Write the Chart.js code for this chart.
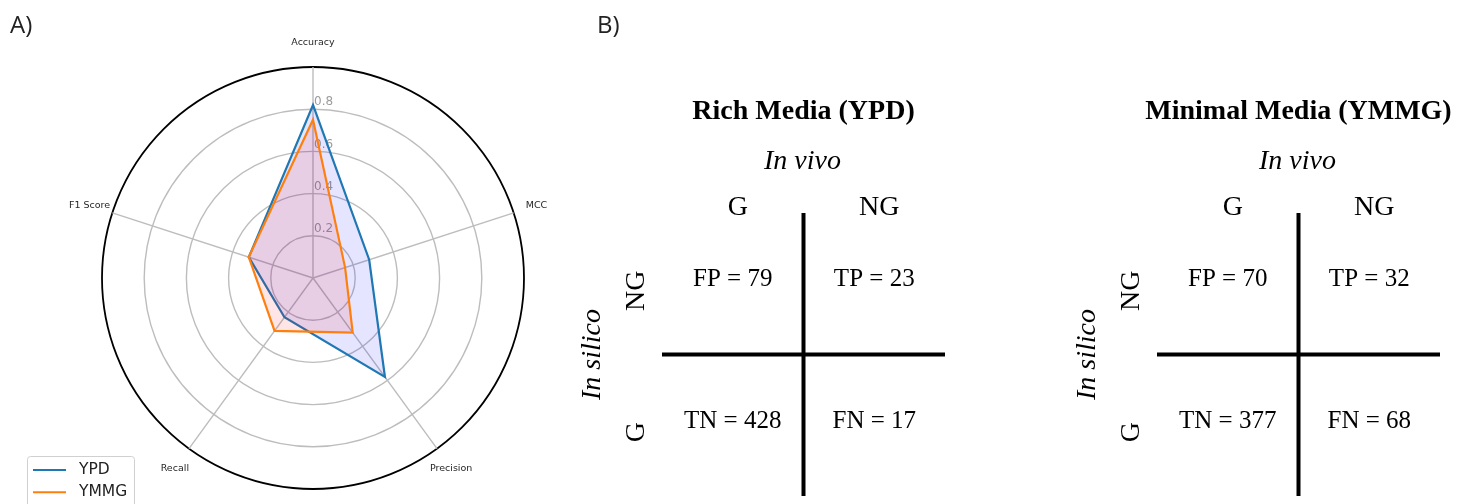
<!DOCTYPE html>
<html lang="en">
<head>
<meta charset="UTF-8">
<title>Radar of scores and confusion matrices</title>
<script src="https://cdn.jsdelivr.net/npm/chart.js@4.4.1/dist/chart.umd.min.js"></script>
<style>
  html, body { margin: 0; padding: 0; background: #fff; }
  #page { position: relative; width: 1481px; height: 504px; overflow: hidden; }
  canvas { position: absolute; top: 0; }
</style>
</head>
<body>
<div id="page">
  <canvas id="radar" width="626" height="504" style="left:0"></canvas>
  <canvas id="cm1" width="420" height="504" style="left:562px"></canvas>
  <canvas id="cm2" width="420" height="504" style="left:1057px"></canvas>
</div>
<script>
// panel A - radar scores
var metrics = ['Accuracy', 'MCC', 'Precision', 'Recall', 'F1 Score'];
var ypdScores = [0.82, 0.28, 0.58, 0.23, 0.32];
var ymmgScores = [0.75, 0.16, 0.32, 0.31, 0.32];
var radarTicks = [0.2, 0.4, 0.6, 0.8];

// panel B - confusion matrices
var matrixTitles = ['Rich Media (YPD)', 'Minimal Media (YMMG)'];
var inVivoLabels = ['G', 'NG'];
var inSilicoLabels = ['NG', 'G'];
var cellNames = [['FP', 'TP'], ['TN', 'FN']];
var ypdCounts = [[79, 23], [428, 17]];
var ymmgCounts = [[70, 32], [377, 68]];

var radarExtras = {
    id: 'radarExtras',
    beforeDatasetsDraw: function(chart) {
        var r = chart.scales.r, ctx = chart.ctx;
        ctx.save();
        ctx.font = '12px "DejaVu Sans"';
        ctx.fillStyle = '#9c9c9c';
        ctx.textAlign = 'left';
        ctx.textBaseline = 'middle';
        radarTicks.forEach(function(v) {
            var d = r.getDistanceFromCenterForValue(v);
            ctx.fillText(v.toFixed(1), r.xCenter + 1, r.yCenter - d - 7);
        });
        ctx.restore();
    },
    afterDraw: function(chart) {
        var r = chart.scales.r, ctx = chart.ctx;
        ctx.save();
        // axis names
        ctx.font = '9.5px "DejaVu Sans"';
        ctx.fillStyle = '#262626';
        ctx.textAlign = 'center';
        ctx.textBaseline = 'middle';
        metrics.forEach(function(m, i) {
            var p = r.getPointPosition(i, r.drawingArea + 24);
            ctx.fillText(m, p.x, p.y);
        });

        // legend box, bottom left
        ctx.fillStyle = '#fff';
        ctx.strokeStyle = '#d0d0d0';
        ctx.lineWidth = 1;
        ctx.beginPath();
        ctx.roundRect(27.5, 456.5, 107, 60, 3);
        ctx.fill();
        ctx.stroke();
        ctx.font = '15.5px "DejaVu Sans"';
        ctx.textAlign = 'left';
        chart.data.datasets.forEach(function(ds, i) {
            var y = 470 + i * 22.3;
            ctx.strokeStyle = ds.borderColor;
            ctx.lineWidth = 2;
            ctx.beginPath();
            ctx.moveTo(33, y);
            ctx.lineTo(66, y);
            ctx.stroke();
            ctx.fillStyle = '#222';
            ctx.fillText(ds.label, 79, y);
        });

        ctx.font = '24px "Open Sans"';
        ctx.fillStyle = '#222';
        ctx.textBaseline = 'alphabetic';
        ctx.fillText('A)', 10, 33);
        ctx.restore();
    }
};

new Chart(document.getElementById('radar'), {
    type: 'radar',
    data: {
        labels: metrics,
        datasets: [
            { label: 'YPD', data: ypdScores, borderColor: '#1f77b4', backgroundColor: 'rgba(0,0,255,0.1)',
              borderWidth: 2.2, pointRadius: 0, fill: true, order: 1 },
            { label: 'YMMG', data: ymmgScores, borderColor: '#ff7f0e', backgroundColor: 'rgba(255,0,0,0.1)',
              borderWidth: 2.2, pointRadius: 0, fill: true, order: 0 }
        ]
    },
    options: {
        responsive: false,
        animation: false,
        layout: { padding: { top: 67, bottom: 15 } },
        scales: {
            r: {
                min: 0, max: 1,
                ticks: { display: false, stepSize: 0.2 },
                pointLabels: { display: false },
                grid: {
                    circular: true,
                    color: function(c) { return c.index === 5 ? '#000' : '#bdbdbd'; },
                    lineWidth: function(c) { return c.index === 5 ? 1.8 : 1.4; }
                },
                angleLines: { color: '#bdbdbd', lineWidth: 1.4 }
            }
        },
        plugins: { legend: { display: false }, tooltip: { enabled: false } }
    },
    plugins: [radarExtras]
});

var matrixDraw = {
    id: 'matrix',
    afterDraw: function(chart, args, opts) {
        var x = chart.scales.x, y = chart.scales.y, ctx = chart.ctx, a = chart.chartArea;
        var xMid = x.getPixelForValue(1);
        ctx.save();
        ctx.strokeStyle = '#000';
        ctx.lineWidth = 4;
        ctx.beginPath();
        ctx.moveTo(xMid, y.getPixelForValue(0));
        ctx.lineTo(xMid, y.getPixelForValue(2));
        ctx.moveTo(x.getPixelForValue(0), y.getPixelForValue(1));
        ctx.lineTo(x.getPixelForValue(2), y.getPixelForValue(1));
        ctx.stroke();

        ctx.fillStyle = '#000';
        ctx.textAlign = 'center';
        ctx.textBaseline = 'middle';
        ctx.font = 'bold 28px "Liberation Serif"';
        ctx.fillText(opts.title, xMid, a.top - 101);
        ctx.font = 'italic 28px "Liberation Serif"';
        ctx.fillText('In vivo', xMid - 1, a.top - 51);

        ctx.font = '28px "Liberation Serif"';
        inVivoLabels.forEach(function(l, c) {
            ctx.fillText(l, x.getPixelForValue(c + 0.5) + 5, a.top - 5);
        });
        inSilicoLabels.forEach(function(l, r) {
            ctx.save();
            ctx.translate(a.left - 25, y.getPixelForValue(r + 0.5) + 7);
            ctx.rotate(-Math.PI / 2);
            ctx.fillText(l, 0, 0);
            ctx.restore();
        });
        ctx.save();
        ctx.font = 'italic 28px "Liberation Serif"';
        ctx.translate(a.left - 69, y.getPixelForValue(1));
        ctx.rotate(-Math.PI / 2);
        ctx.fillText('In silico', 0, 0);
        ctx.restore();

        ctx.font = '25px "Liberation Serif"';
        opts.counts.forEach(function(row, r) {
            row.forEach(function(n, c) {
                ctx.fillText(cellNames[r][c] + ' = ' + n, x.getPixelForValue(c + 0.5), y.getPixelForValue(r + 0.5) - 4);
            });
        });

        if (opts.tag) {
            ctx.font = '24px "Open Sans"';
            ctx.fillStyle = '#222';
            ctx.textAlign = 'left';
            ctx.textBaseline = 'alphabetic';
            ctx.fillText(opts.tag, 35, 33);
        }
        ctx.restore();
    }
};

function matrixChart(id, title, counts, tag) {
    return new Chart(document.getElementById(id), {
        type: 'scatter',
        data: { datasets: [] },
        options: {
            responsive: false,
            animation: false,
            layout: { padding: { left: 100, right: 37, top: 213, bottom: 8 } },
            scales: {
                x: { type: 'linear', min: 0, max: 2, display: false },
                y: { type: 'linear', min: 0, max: 2, reverse: true, display: false }
            },
            plugins: {
                legend: { display: false },
                tooltip: { enabled: false },
                matrix: { title: title, counts: counts, tag: tag }
            }
        },
        plugins: [matrixDraw]
    });
}

matrixChart('cm1', matrixTitles[0], ypdCounts, 'B)');
matrixChart('cm2', matrixTitles[1], ymmgCounts, '');
</script>
</body>
</html>
